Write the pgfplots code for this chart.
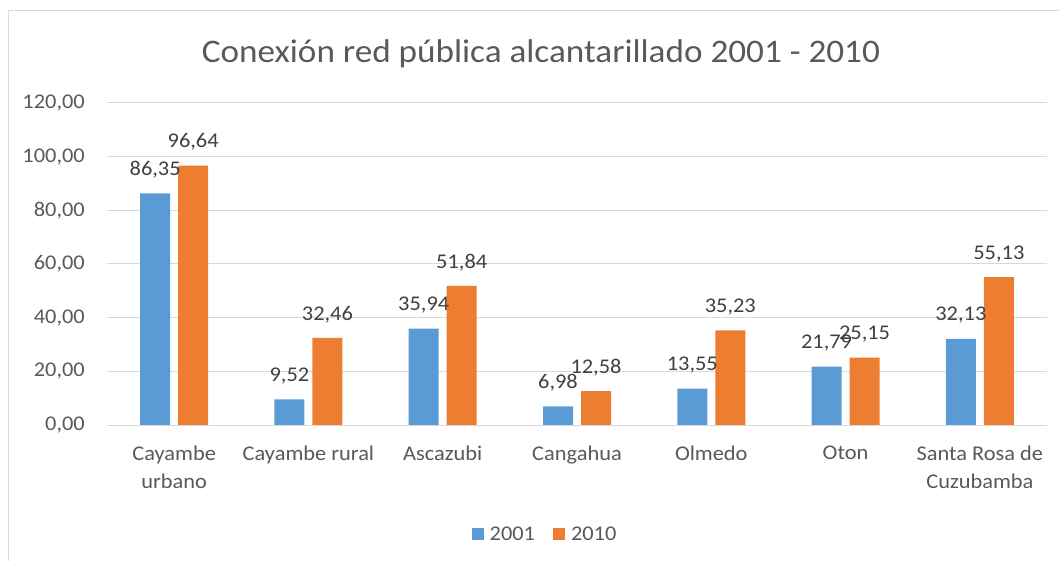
\documentclass[border=0pt]{standalone}
\usepackage{pgfplots}
\pgfplotsset{compat=1.18}
\usepackage{fontspec}
\setmainfont{Carlito}[FakeStretch=1.07]

\definecolor{bar2001}{HTML}{5B9BD5}
\definecolor{bar2010}{HTML}{ED7D31}
\definecolor{gridgray}{HTML}{D9D9D9}
\definecolor{txtgray}{HTML}{595959}
\definecolor{lblgray}{HTML}{404040}

\begin{document}
\begin{tikzpicture}
\path[use as bounding box] (0,0) rectangle (1059bp,561bp);
\draw[gridgray, line width=1bp] (8bp,0) -- (8bp,550bp) -- (1059bp,550bp);
\node[anchor=base, text=txtgray, font=\fontsize{33}{38}\selectfont] at (541bp,498bp)
  {Conexión red pública alcantarillado 2001 - 2010};

\begin{axis}[
    at={(107bp,136bp)}, anchor=south west,
    scale only axis, width=940bp, height=322bp,
    ybar=8bp, bar width=30bp,
    xmin=-0.5, xmax=6.5,
    ymin=0, ymax=120,
    ytick={0,20,...,120},
    xtick={0,...,6},
    xticklabels={{Cayambe\\urbano},{Cayambe rural},{Ascazubi},{Cangahua},{Olmedo},{Oton},{Santa Rosa de\\Cuzubamba}},
    major tick length=0pt,
    axis x line*=bottom, axis y line*=left,
    y axis line style={draw=none},
    x axis line style={draw=gridgray, line width=1bp, -},
    ymajorgrids, grid style={draw=gridgray, line width=1bp},
    /pgf/number format/.cd, use comma, fixed, fixed zerofill, precision=2, assume math mode=true,
    /pgfplots/.cd,
    yticklabel style={text=txtgray, inner sep=0pt, xshift=-22bp, font=\fontsize{21}{28}\selectfont},
    xticklabel style={text=txtgray, inner sep=0pt, yshift=-21bp, align=center, font=\fontsize{21}{28}\selectfont},
    nodes near coords,
    every node near coord/.append style={text=lblgray, inner sep=0pt, yshift=15bp, font=\fontsize{21}{26}\selectfont},
    legend style={at={(0.466,-0.34)}, anchor=center, draw=none, legend columns=2,
        font=\fontsize{21}{26}\selectfont, text=txtgray,
        /tikz/every odd column/.append style={column sep=4bp},
        /tikz/every even column/.append style={column sep=16bp}},
    legend image code/.code={\fill[#1, draw=none] (0bp,-6bp) rectangle (12bp,6bp);},
]
\addplot[fill=bar2001, draw=none] coordinates {
    (0,86.35) (1,9.52) (2,35.94) (3,6.98) (4,13.55) (5,21.79) (6,32.13)
};
\addlegendentry{2001}
\addplot[fill=bar2010, draw=none] coordinates {
    (0,96.64) (1,32.46) (2,51.84) (3,12.58) (4,35.23) (5,25.15) (6,55.13)
};
\addlegendentry{2010}
\end{axis}
\end{tikzpicture}
\end{document}
